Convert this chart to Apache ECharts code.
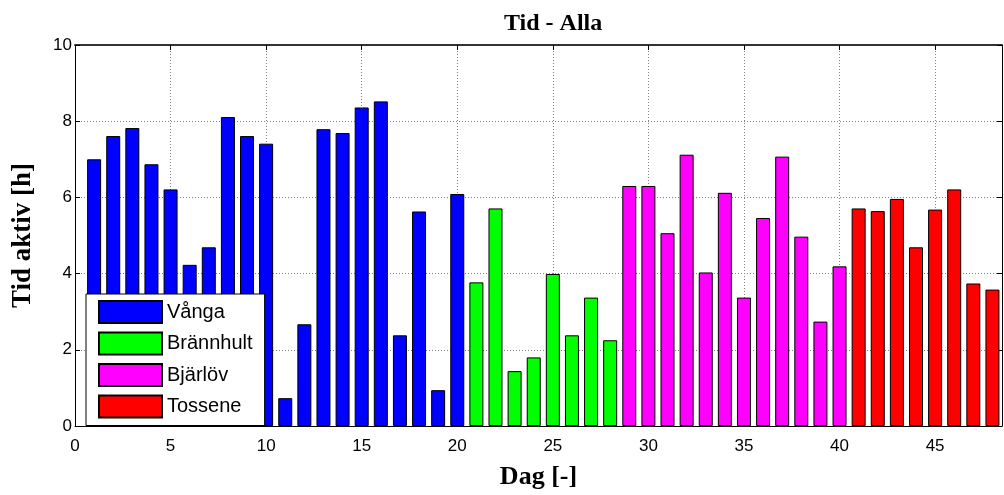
<!DOCTYPE html>
<html>
<head>
<meta charset="utf-8">
<title>Tid - Alla</title>
<script src="https://cdn.jsdelivr.net/npm/echarts@6/dist/echarts.min.js"></script>
<style>
  html, body { margin: 0; padding: 0; background: #fff; }
  #chart { width: 1004px; height: 495px; }
</style>
</head>
<body>
<div id="chart"></div>
<script>
// Active hours per day, grouped by site (day numbers are consecutive)
const vangaDays = [1, 2, 3, 4, 5, 6, 7, 8, 9, 10, 11, 12, 13, 14, 15, 16, 17, 18, 19, 20];
const vangaHours = [7.00, 7.61, 7.82, 6.87, 6.21, 4.23, 4.69, 8.11, 7.61, 7.41,
                    0.73, 2.67, 7.79, 7.69, 8.36, 8.52, 2.38, 5.63, 0.94, 6.09];

const brannhultDays = [21, 22, 23, 24, 25, 26, 27, 28];
const brannhultHours = [3.77, 5.71, 1.44, 1.80, 3.99, 2.38, 3.37, 2.25];

const bjarlovDays = [29, 30, 31, 32, 33, 34, 35, 36, 37, 38, 39, 40];
const bjarlovHours = [6.30, 6.30, 5.06, 7.12, 4.03, 6.12, 3.37, 5.46, 7.07, 4.97, 2.74, 4.19];

const tosseneDays = [41, 42, 43, 44, 45, 46, 47, 48];
const tosseneHours = [5.71, 5.64, 5.96, 4.69, 5.68, 6.21, 3.74, 3.58];

const xTicks = [0, 5, 10, 15, 20, 25, 30, 35, 40, 45];
const yTicks = [0, 2, 4, 6, 8, 10];

const SANS = '"Liberation Sans", Arial, sans-serif';
const SERIF = '"Liberation Serif", "Times New Roman", serif';

function pairs(xs, ys) {
  return xs.map((x, i) => [x, ys[i]]);
}

function barSeries(name, color, xs, ys) {
  return {
    name: name,
    type: 'bar',
    xAxisIndex: 0,
    yAxisIndex: 0,
    barWidth: 14,
    barGap: '-100%',
    data: pairs(xs, ys),
    itemStyle: { color: color, borderColor: '#000', borderWidth: 1 },
    emphasis: { disabled: true }
  };
}

const chart = echarts.init(document.getElementById('chart'), null, { renderer: 'canvas' });

const tickLabelStyle = { color: '#000', fontFamily: SANS, fontSize: 17 };
const gridLine = { show: true, lineStyle: { color: '#808080', type: [1, 2], width: 1 } };

chart.setOption({
  animation: false,
  backgroundColor: '#fff',
  title: {
    text: 'Tid - Alla',
    left: 499,
    top: 7,
    textStyle: { fontFamily: SERIF, fontWeight: 'bold', fontSize: 24, color: '#000' }
  },
  grid: { left: 75, top: 45, width: 927, height: 383, containLabel: false },
  legend: {
    orient: 'vertical',
    left: 86,
    top: 294,
    itemWidth: 63,
    itemHeight: 22,
    itemGap: 7.5,
    padding: [6, 12, 7, 12],
    backgroundColor: '#fff',
    borderColor: '#000',
    borderWidth: 1,
    icon: 'rect',
    selectedMode: false,
    textStyle: { fontFamily: SANS, fontSize: 20, color: '#000' },
    data: ['Vånga', 'Brännhult', 'Bjärlöv', 'Tossene']
  },
  xAxis: [
    {
      type: 'value',
      position: 'bottom',
      min: xTicks[0],
      max: 48.5,
      interval: xTicks[1] - xTicks[0],
      name: 'Dag [-]',
      nameLocation: 'middle',
      nameGap: 38,
      nameTextStyle: { fontFamily: SERIF, fontWeight: 'bold', fontSize: 26, color: '#000' },
      axisLine: { show: true, onZero: false, lineStyle: { color: '#000', width: 1 } },
      axisTick: { show: true, inside: true, length: 5, lineStyle: { color: '#000' } },
      axisLabel: {
        ...tickLabelStyle,
        margin: 12,
        showMaxLabel: false,
        formatter: v => (xTicks.includes(v) ? String(v) : '')
      },
      splitLine: gridLine
    },
    {
      type: 'value',
      position: 'top',
      min: xTicks[0],
      max: 48.5,
      interval: xTicks[1] - xTicks[0],
      axisLine: { show: true, onZero: false, lineStyle: { color: '#333', width: 2 } },
      axisTick: { show: true, inside: true, length: 5, lineStyle: { color: '#000' } },
      axisLabel: { show: false },
      splitLine: { show: false }
    }
  ],
  yAxis: [
    {
      type: 'value',
      position: 'left',
      min: yTicks[0],
      max: yTicks[yTicks.length - 1],
      interval: yTicks[1] - yTicks[0],
      name: 'Tid aktiv [h]',
      nameLocation: 'middle',
      nameGap: 38,
      nameTextStyle: { fontFamily: SERIF, fontWeight: 'bold', fontSize: 27, color: '#000' },
      axisLine: { show: true, onZero: false, lineStyle: { color: '#000', width: 1 } },
      axisTick: { show: true, inside: true, length: 5, lineStyle: { color: '#000' } },
      axisLabel: { ...tickLabelStyle, margin: 3 },
      splitLine: gridLine
    },
    {
      type: 'value',
      position: 'right',
      min: yTicks[0],
      max: yTicks[yTicks.length - 1],
      interval: yTicks[1] - yTicks[0],
      axisLine: { show: true, onZero: false, lineStyle: { color: '#000', width: 1 } },
      axisTick: { show: true, inside: true, length: 5, lineStyle: { color: '#000' } },
      axisLabel: { show: false },
      splitLine: { show: false }
    }
  ],
  series: [
    barSeries('Vånga', '#0000ff', vangaDays, vangaHours),
    barSeries('Brännhult', '#00ff00', brannhultDays, brannhultHours),
    barSeries('Bjärlöv', '#ff00ff', bjarlovDays, bjarlovHours),
    barSeries('Tossene', '#ff0000', tosseneDays, tosseneHours)
  ]
});
</script>
</body>
</html>
